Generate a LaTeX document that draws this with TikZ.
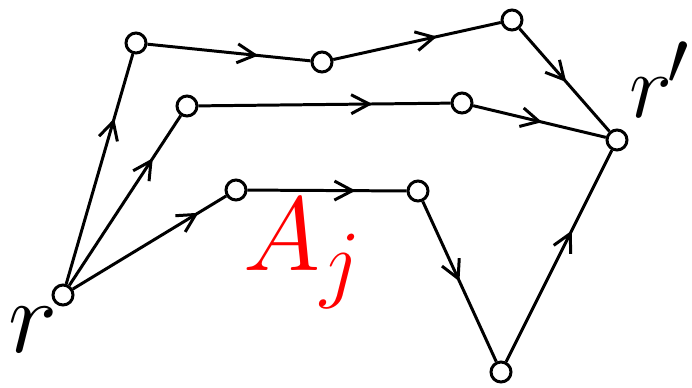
\documentclass[tikz,border=0pt]{standalone}
\usetikzlibrary{arrows.meta, decorations.markings}
\tikzstyle{vertex}  = [draw, circle, line width=1.7pt, minimum size=4.0mm, inner sep=0pt, fill=white]
\tikzstyle{edge}    = [line width=1.7pt]
\tikzstyle{bigmath} = [font=\Huge, scale=2.4, inner sep=0pt]
\tikzset{midarrow/.style={postaction={decorate, decoration={markings,
    mark=at position #1 with {\arrow{Straight Barb[length=3.6mm, width=3.8mm, line width=1.7pt]}}}}}}

\begin{document}
\begin{tikzpicture}[x=0.02cm, y=-0.02cm]

    \useasboundingbox (0,0) rectangle (692,387);

    \node[vertex] (R)  at (63,295)  {};
    \node[vertex] (RP) at (617,140) {};

    \node[vertex] (A1) at (136,43)  {};
    \node[vertex] (A2) at (322,62)  {};
    \node[vertex] (A3) at (512,20)  {};

    \node[vertex] (B1) at (187,106) {};
    \node[vertex] (B2) at (462,103) {};

    \node[vertex] (C1) at (236,190) {};
    \node[vertex] (C2) at (418,191) {};
    \node[vertex] (C3) at (501,372) {};

    \node[bigmath] (LR)  at (33,330)  {$r$};
    \node[bigmath, scale=0.875, anchor=west] (LRP) at (629,80)  {$r\mkern-1mu'$};
    \node[bigmath, text=red] (LA) at (303,254) {$A_j$};

    \draw[edge, midarrow=0.72] (R) -- (A1);
    \draw[edge, midarrow=0.68] (A1) -- (A2);
    \draw[edge, midarrow=0.62] (A2) -- (A3);
    \draw[edge, midarrow=0.52] (A3) -- (RP);

    \draw[edge, midarrow=0.75] (R) -- (B1);
    \draw[edge, midarrow=0.69] (B1) -- (B2);
    \draw[edge, midarrow=0.52] (B2) -- (RP);

    \draw[edge, midarrow=0.82] (R) -- (C1);
    \draw[edge, midarrow=0.68] (C1) -- (C2);
    \draw[edge, midarrow=0.50] (C2) -- (C3);
    \draw[edge, midarrow=0.62] (C3) -- (RP);

\end{tikzpicture}
\end{document}
